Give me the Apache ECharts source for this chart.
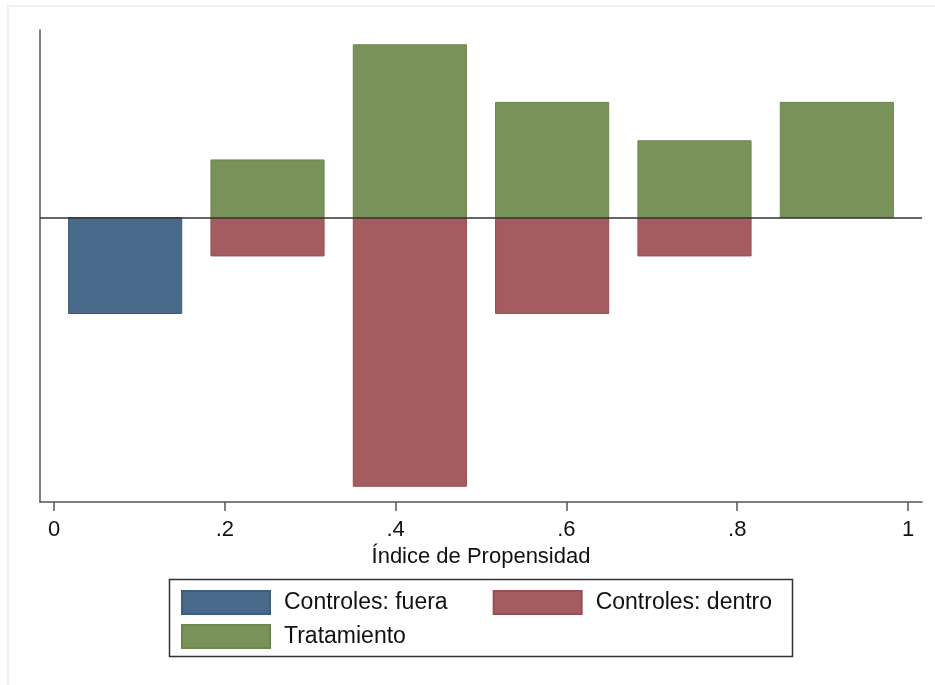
<!DOCTYPE html>
<html>
<head>
<meta charset="utf-8">
<script src="https://cdn.jsdelivr.net/npm/echarts@6/dist/echarts.min.js"></script>
<style>
html,body{margin:0;padding:0;background:#fff;}
#chart{width:935px;height:685px;}
</style>
</head>
<body>
<div id="chart"></div>
<script>
// ---- data ----
const seriesNames = ['Controles: fuera', 'Controles: dentro', 'Tratamiento'];
const fueraCenters = [0.0833];
const fueraValues = [-5];
const dentroCenters = [0.25, 0.4167, 0.5833, 0.75];
const dentroValues = [-2, -14, -5, -2];
const tratCenters = [0.25, 0.4167, 0.5833, 0.75, 0.9167];
const tratValues = [3, 9, 6, 4, 6];
const binWidth = 0.1325;
const tickValues = [0, 0.2, 0.4, 0.6, 0.8, 1];
const tickLabels = ['0', '.2', '.4', '.6', '.8', '1'];

const FONT = '"Liberation Sans", Arial, sans-serif';
const colors = {
  fuera: { fill: '#48698a', stroke: '#3d5d7d' },
  dentro: { fill: '#a45c60', stroke: '#9a4d52' },
  trat: { fill: '#789259', stroke: '#6c874c' }
};

function pairs(c, v) { return c.map((x, i) => [x, v[i]]); }

function renderBar(params, api) {
  const c = api.value(0), v = api.value(1);
  const p0 = api.coord([c - binWidth / 2, 0]);
  const p1 = api.coord([c + binWidth / 2, v]);
  const x = Math.min(p0[0], p1[0]);
  const y = Math.min(p0[1], p1[1]);
  return {
    type: 'rect',
    shape: { x: x, y: y, width: Math.abs(p1[0] - p0[0]), height: Math.abs(p1[1] - p0[1]) },
    style: api.style()
  };
}

function barSeries(name, data, col, extra) {
  return Object.assign({
    name: name,
    type: 'custom',
    renderItem: renderBar,
    data: data,
    itemStyle: { color: col.fill, borderColor: col.stroke, borderWidth: 1 },
    encode: { x: 0, y: 1 },
    silent: true
  }, extra || {});
}

const chart = echarts.init(document.getElementById('chart'), null, { renderer: 'canvas' });
chart.setOption({
  animation: false,
  backgroundColor: '#ffffff',
  textStyle: { fontFamily: FONT },
  graphic: [
    { type: 'rect', z: -10, shape: { x: 8, y: 6, width: 1000, height: 1000 },
      style: { fill: 'transparent', stroke: '#eaf1f6', lineWidth: 2 } },
    { type: 'rect', z: -5, shape: { x: 169.5, y: 579.5, width: 623, height: 77 },
      style: { fill: 'transparent', stroke: '#333333', lineWidth: 1.5 } }
  ],
  grid: { left: 40, right: 13, top: 30, bottom: 183, containLabel: false },
  xAxis: {
    type: 'value',
    min: -0.0164,
    max: 1.0164,
    position: 'bottom',
    axisLine: { show: true, onZero: false, lineStyle: { color: '#555', width: 1.5 } },
    axisTick: { show: true, customValues: tickValues, length: 9, lineStyle: { color: '#555', width: 1.5 } },
    axisLabel: {
      customValues: tickValues,
      margin: 17,
      fontSize: 22,
      color: '#111',
      fontFamily: FONT,
      formatter: function (v) {
        const i = tickValues.findIndex(t => Math.abs(t - v) < 1e-9);
        return i >= 0 ? tickLabels[i] : '';
      }
    },
    splitLine: { show: false },
    name: 'Índice de Propensidad',
    nameLocation: 'middle',
    nameGap: 40,
    nameTextStyle: { fontSize: 22, color: '#111', fontFamily: FONT }
  },
  yAxis: {
    type: 'value',
    min: -14.82,
    max: 9.77,
    axisLine: { show: true, onZero: false, lineStyle: { color: '#555', width: 1.5 } },
    axisTick: { show: false },
    axisLabel: { show: false },
    splitLine: { show: false }
  },
  legend: [
    {
      data: [seriesNames[0], seriesNames[1]],
      left: 181, top: 590, padding: 0,
      orient: 'horizontal',
      icon: 'rect',
      itemWidth: 88, itemHeight: 23, itemGap: 45,
      textStyle: { fontSize: 23, color: '#111', fontFamily: FONT, padding: [0, 0, 0, 9] },
      selectedMode: false
    },
    {
      data: [seriesNames[2]],
      left: 181, top: 624, padding: 0,
      orient: 'horizontal',
      icon: 'rect',
      itemWidth: 88, itemHeight: 23,
      textStyle: { fontSize: 23, color: '#111', fontFamily: FONT, padding: [0, 0, 0, 9] },
      selectedMode: false
    }
  ],
  series: [
    barSeries(seriesNames[0], pairs(fueraCenters, fueraValues), colors.fuera),
    barSeries(seriesNames[1], pairs(dentroCenters, dentroValues), colors.dentro),
    barSeries(seriesNames[2], pairs(tratCenters, tratValues), colors.trat, {
      markLine: {
        silent: true,
        symbol: 'none',
        label: { show: false },
        lineStyle: { color: '#333', width: 1.5, type: 'solid' },
        data: [{ yAxis: 0 }]
      }
    })
  ]
});
</script>
</body>
</html>
